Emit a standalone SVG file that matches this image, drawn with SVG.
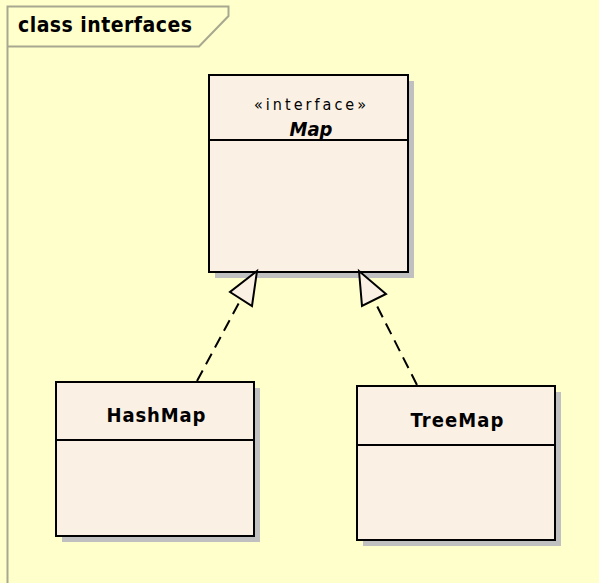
<svg xmlns="http://www.w3.org/2000/svg" width="599" height="583" viewBox="0 0 599 583">
<style>
.box{fill:#faf0e4;stroke:#000;stroke-width:2}
.shadow{fill:#c0c0c0}
.div{stroke:#000;stroke-width:2}
.name{font-family:"DejaVu Sans Condensed","DejaVu Sans",sans-serif;font-stretch:condensed;font-weight:bold;font-size:20px;text-anchor:middle;fill:#000}
.stereo{font-family:"DejaVu Sans Condensed","DejaVu Sans",sans-serif;font-stretch:condensed;font-size:16px;text-anchor:middle;fill:#000}
.title{font-family:"DejaVu Sans Condensed","DejaVu Sans",sans-serif;font-stretch:condensed;font-weight:bold;font-size:21px;fill:#000}
.dep{fill:none;stroke:#000;stroke-width:2;stroke-dasharray:12 7}
.head{fill:#faf0e4;stroke:#000;stroke-width:2;stroke-linejoin:miter}
</style>
<rect x="0" y="0" width="599" height="583" fill="#ffffcc"/>
<g id="frame">
<path d="M7.5,583 L7.5,6.5 L228.5,6.5 L228.5,16 L199,46.5 L7.5,46.5" fill="none" stroke="#a8a890" stroke-width="2"/>
<text class="title" x="18" y="32" textLength="174" lengthAdjust="spacing">class interfaces</text>
</g>
<g id="Map">
<rect class="shadow" x="215" y="81" width="199" height="197"/>
<rect class="box" x="209" y="75" width="199" height="197"/>
<line class="div" x1="209" y1="140" x2="408" y2="140"/>
<text class="stereo" x="310" y="110" textLength="112" lengthAdjust="spacing">«interface»</text>
<text class="name" x="311" y="136" font-style="italic">Map</text>
</g>
<g id="HashMap">
<rect class="shadow" x="62" y="388" width="198" height="154"/>
<rect class="box" x="56" y="382" width="198" height="154"/>
<line class="div" x1="56" y1="440" x2="254" y2="440"/>
<text class="name" x="156" y="422" textLength="99" lengthAdjust="spacing">HashMap</text>
</g>
<g id="TreeMap">
<rect class="shadow" x="363" y="392" width="198" height="154"/>
<rect class="box" x="357" y="386" width="198" height="154"/>
<line class="div" x1="357" y1="445" x2="555" y2="445"/>
<text class="name" x="457" y="427" textLength="93" lengthAdjust="spacing">TreeMap</text>
</g>
<g id="connectors">
<line class="dep" x1="197" y1="381" x2="241" y2="299"/>
<polygon class="head" points="257,271 230,292 252,306"/>
<line class="dep" x1="417" y1="385" x2="374" y2="300"/>
<polygon class="head" points="359,271 362,306 386,294"/>
</g>
</svg>
